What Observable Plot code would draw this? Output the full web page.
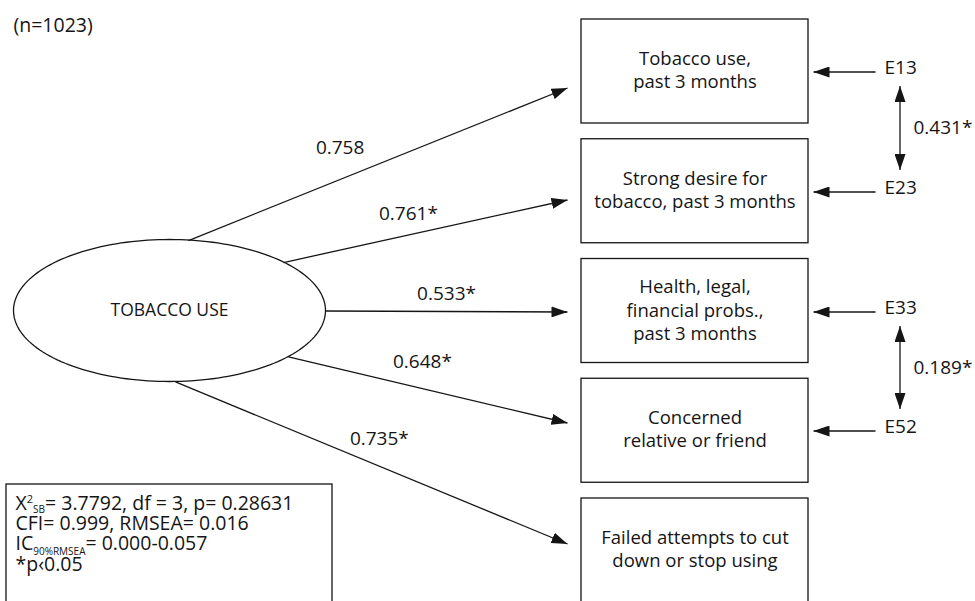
<!DOCTYPE html>
<html>
<head>
<meta charset="utf-8">
<script src="https://cdn.jsdelivr.net/npm/d3@7"></script>
<script src="https://cdn.jsdelivr.net/npm/@observablehq/plot@0.6"></script>
<style>
  html, body { margin: 0; padding: 0; background: #fff; }
  #chart { width: 975px; height: 601px; overflow: hidden; }
</style>
</head>
<body>
<div id="chart"></div>
<script>
// ---------------- DATA ----------------
const sampleSize = "(n=1023)";
const latentName = "TOBACCO USE";
const indicators = [
  "Tobacco use,\npast 3 months",
  "Strong desire for\ntobacco, past 3 months",
  "Health, legal,\nfinancial probs.,\npast 3 months",
  "Concerned\nrelative or friend",
  "Failed attempts to cut\ndown or stop using"
];
const loadings = [0.758, 0.761, 0.533, 0.648, 0.735];
const loadingSignificant = [false, true, true, true, true];
const errorTerms = ["E13", "E23", "E33", "E52", null];
const covFrom = ["E13", "E33"];
const covTo = ["E23", "E52"];
const covValues = [0.431, 0.189];
const covSignificant = [true, true];
const fitLines = [
  "X2SB= 3.7792, df = 3, p= 0.28631",
  "CFI= 0.999, RMSEA= 0.016",
  "IC90%RMSEA= 0.000-0.057",
  "*p‹0.05"
];

// ---------------- LAYOUT (diagram geometry) ----------------
const W = 975, H = 601;
const ell = {cx: 169, cy: 310, rx: 156, ry: 71};
const box = {x1: 581, x2: 808, top: 19, step: 119.75, h: 104};
const startDx = [19, 114, 156, 119, 6];
const startSide = [-1, -1, 0, 1, 1];
const endX = 567;
const endDy = [16, 8, 0, -8, -7];
const labelT = [0.40, 0.44, 0.50, 0.48, 0.52];
const labelDy = [-32, -21, -18, -27, -27];
const errX1 = 875, errX2 = 813, errLabelX = 884, covX = 899, covLabelX = 913;
const statsBox = {x1: 6, x2: 332, y1: 484, y2: 640};
const statsX = 15, statsY0 = 503, statsStep = 20.3;
const ink = "#151515";
const font = "Open Sans";

const boxTop = i => box.top + i * box.step;
const boxMid = i => Math.round(boxTop(i) + box.h / 2) + 0.5;

const boxes = indicators.map((name, i) => ({
  name, x1: box.x1, x2: box.x2, y1: boxTop(i), y2: boxTop(i) + box.h, xm: (box.x1 + box.x2) / 2, ym: boxMid(i) - 3
}));

const paths = indicators.map((name, i) => {
  const dx = startDx[i];
  const x1 = ell.cx + dx;
  const y1 = ell.cy + 0.5 + startSide[i] * ell.ry * Math.sqrt(Math.max(0, 1 - (dx / ell.rx) ** 2));
  const x2 = endX, y2 = boxMid(i) + endDy[i];
  const t = labelT[i];
  return {
    x1, y1, x2, y2,
    label: loadings[i].toFixed(3) + (loadingSignificant[i] ? "*" : ""),
    lx: x1 + t * (x2 - x1),
    ly: y1 + t * (y2 - y1) + labelDy[i]
  };
});

const errs = errorTerms
  .map((e, i) => e ? {name: e, y: boxMid(i), ly: boxMid(i) - 4} : null)
  .filter(d => d);
const errY = Object.fromEntries(errs.map(d => [d.name, d.ly]));

const covs = covFrom.map((a, k) => ({
  x: covX + 0.5,
  y1: errY[a] + 18,
  y2: errY[covTo[k]] - 18,
  label: covValues[k].toFixed(3) + (covSignificant[k] ? "*" : ""),
  ly: (errY[a] + errY[covTo[k]]) / 2
}));

const ellipsePts = d3.range(0, 181).map(k => {
  const a = (k / 180) * 2 * Math.PI;
  return {x: ell.cx + ell.rx * Math.cos(a), y: ell.cy + ell.ry * Math.sin(a)};
});

const stats = fitLines.map((t, i) => ({t, x: statsX, y: statsY0 + i * statsStep}));

// ---------------- PLOT ----------------
const svg = Plot.plot({
  width: W, height: H, margin: 0,
  x: {domain: [0, W], range: [0, W], axis: null},
  y: {domain: [0, H], range: [0, H], axis: null},
  style: {fontFamily: font, background: "#fff", color: ink},
  marks: [
    Plot.line(ellipsePts, {x: "x", y: "y", curve: "linear-closed", stroke: ink, strokeWidth: 1.3}),
    Plot.text([latentName], {x: ell.cx, y: ell.cy, text: d => d, fontSize: 17.5, fill: ink}),
    Plot.link(paths, {x1: "x1", y1: "y1", x2: "x2", y2: "y2", stroke: ink, strokeWidth: 1.3, ariaLabel: () => "loading-path"}),
    Plot.text(paths, {x: "lx", y: "ly", text: "label", fontSize: 19, fill: ink}),
    Plot.rect(boxes, {x1: "x1", x2: "x2", y1: "y1", y2: "y2", fill: "#fff", stroke: ink, strokeWidth: 1.3}),
    Plot.text(boxes, {x: "xm", y: "ym", text: "name", fontSize: 18.5, lineHeight: 1.27, fill: ink}),
    Plot.link(errs, {x1: () => errX1, x2: () => errX2, y1: "y", y2: "y", stroke: ink, strokeWidth: 1.3, ariaLabel: () => "error-path"}),
    Plot.text(errs, {x: () => errLabelX, y: "ly", text: "name", textAnchor: "start", fontSize: 19, fill: ink}),
    Plot.link(covs, {x1: "x", x2: "x", y1: "y1", y2: "y2", stroke: ink, strokeWidth: 1.3, ariaLabel: () => "cov-path"}),
    Plot.text(covs, {x: () => covLabelX, y: "ly", text: "label", textAnchor: "start", fontSize: 19, fill: ink}),
    Plot.rect([statsBox], {x1: "x1", x2: "x2", y1: "y1", y2: "y2", fill: "#fff", stroke: ink, strokeWidth: 1.3}),
    Plot.text(stats, {x: "x", y: "y", text: "t", textAnchor: "start", fontSize: 19.5, fill: ink}),
    Plot.text([sampleSize], {x: () => 13, y: () => 25, text: d => d, textAnchor: "start", fontSize: 19.5, fill: ink})
  ]
});

// ---------------- arrowheads & sub/superscripts ----------------
const s = d3.select(svg);
const defs = s.insert("defs", ":first-child");
function addMarker(id, orient) {
  defs.append("marker")
    .attr("id", id).attr("viewBox", "0 0 16 11").attr("refX", 16).attr("refY", 5.5)
    .attr("markerWidth", 16).attr("markerHeight", 11)
    .attr("markerUnits", "userSpaceOnUse").attr("orient", orient)
    .append("path").attr("d", "M0,0L16,5.5L0,11Z").attr("fill", ink);
}
addMarker("ah", "auto");
addMarker("ahs", "auto-start-reverse");

s.selectAll('[aria-label="loading-path"], [aria-label="error-path"]').attr("marker-end", "url(#ah)");
s.selectAll('[aria-label="cov-path"]').attr("marker-end", "url(#ah)").attr("marker-start", "url(#ahs)");

s.selectAll("text").each(function () {
  const el = d3.select(this);
  const txt = this.textContent;
  if (txt === fitLines[0]) {
    el.text("");
    el.append("tspan").text("X");
    el.append("tspan").attr("dy", -7).attr("font-size", 11).text("2");
    el.append("tspan").attr("dy", 10).attr("font-size", 10).text("SB");
    el.append("tspan").attr("dy", -3).text(txt.slice(4));
  } else if (txt === fitLines[2]) {
    el.text("");
    el.append("tspan").text("IC");
    el.append("tspan").attr("dy", 5).attr("font-size", 10).text("90%RMSEA");
    el.append("tspan").attr("dy", -5).text(txt.slice(10));
  }
});

document.getElementById("chart").appendChild(svg);
</script>
</body>
</html>
